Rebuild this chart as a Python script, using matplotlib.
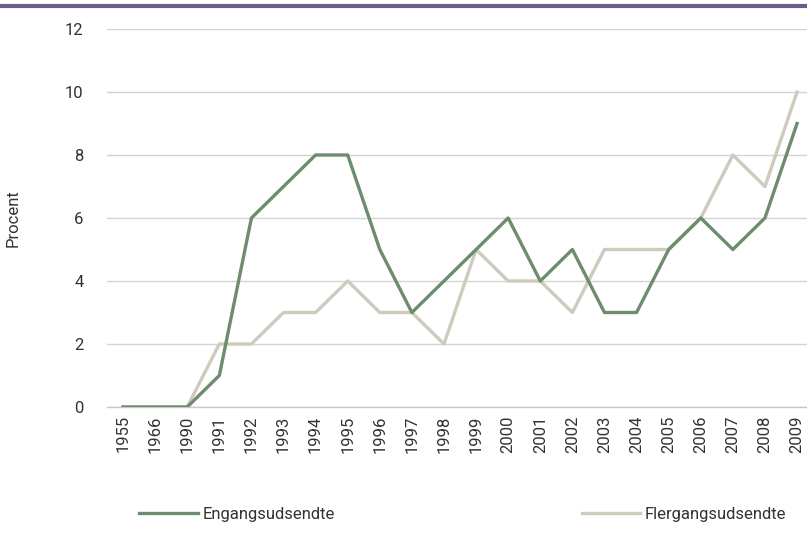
import matplotlib
matplotlib.use("Agg")
import matplotlib.pyplot as plt
from matplotlib.lines import Line2D

years = ["1955", "1966", "1990", "1991", "1992", "1993", "1994", "1995", "1996", "1997", "1998",
         "1999", "2000", "2001", "2002", "2003", "2004", "2005", "2006", "2007", "2008", "2009"]
engang = [0, 0, 0, 1, 6, 7, 8, 8, 5, 3, 4, 5, 6, 4, 5, 3, 3, 5, 6, 5, 6, 9]
flergang = [0, 0, 0, 2, 2, 3, 3, 4, 3, 3, 2, 5, 4, 4, 3, 5, 5, 5, 6, 8, 7, 10]
yticks = [0, 2, 4, 6, 8, 10, 12]

plt.rcParams['font.family'] = ['Roboto', 'DejaVu Sans']
fig = plt.figure(figsize=(8.07, 5.49), dpi=100)
ax = fig.add_axes([107/807, (549-407)/549, 1 - 107/807, (407-29)/549])

x = list(range(len(years)))
l1, = ax.plot(x, engang, color='#6e8c6e', lw=2.4, label='Engangsudsendte', zorder=3)
l2, = ax.plot(x, flergang, color='#cfcabe', lw=2.4, label='Flergangsudsendte', zorder=2)

ax.set_xlim(-0.5, 21.31)
ax.set_ylim(0, 12)
ax.set_yticks(yticks)
ax.set_xticks(x)
ax.set_xticklabels(years, rotation=90, fontsize=12, color='#333333')
ax.tick_params(axis='y', labelsize=12, colors='#333333', length=0, pad=17)
ax.tick_params(axis='x', length=0, pad=6)
ax.grid(axis='y', color='#d4d4d4', lw=1)
ax.set_axisbelow(True)
for s in ['top', 'right', 'left']:
    ax.spines[s].set_visible(False)
ax.spines['bottom'].set_color('#c8c8c8')
ax.spines['bottom'].set_linewidth(1)
ax.set_ylabel('Procent', fontsize=12, color='#333333', labelpad=32)

fig.legend(handles=[l1, l2], loc='center', bbox_to_anchor=(463/807, 1 - 514/549), ncol=2,
           frameon=False, fontsize=12, handlelength=3.5, columnspacing=14.8, handletextpad=0.3,
           labelcolor='#333333')

fig.add_artist(Line2D([0, 1], [1 - 6/549, 1 - 6/549], color='#6b5b8c', lw=3, transform=fig.transFigure))

fig.savefig('out.png', dpi=100)
